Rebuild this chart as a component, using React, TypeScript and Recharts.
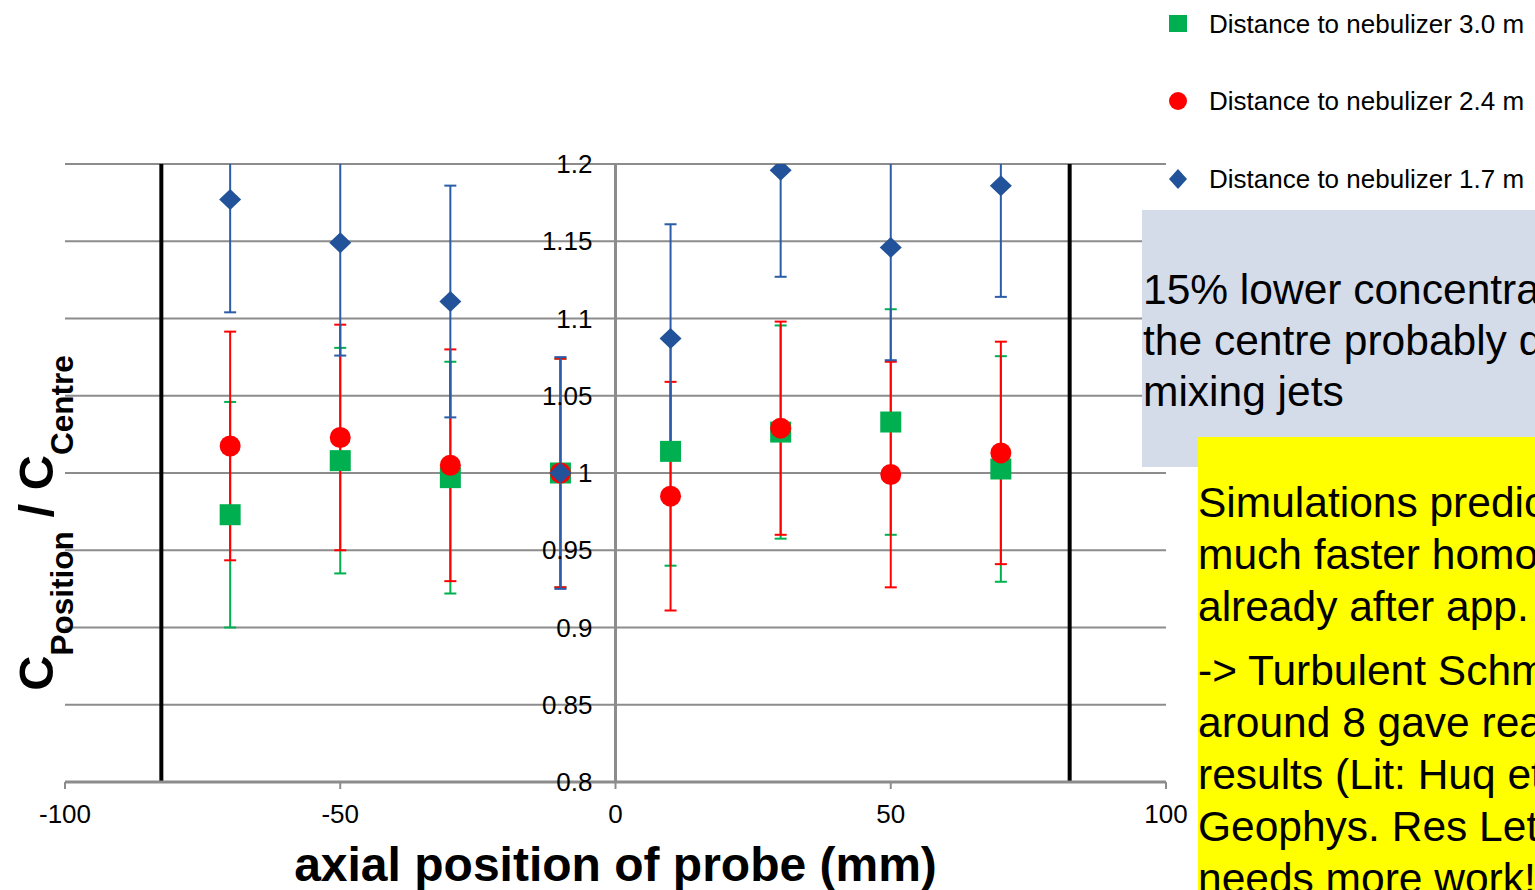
import { ScatterChart, Scatter, XAxis, YAxis, CartesianGrid, ErrorBar, ReferenceLine } from 'recharts';

const positions = [-70, -50, -30, -10, 10, 30, 50, 70];

// distance to nebulizer 1.7 m
const blueMean = [1.177, 1.149, 1.111, 1.0, 1.087, 1.196, 1.146, 1.186];
const blueErr = [0.073, 0.073, 0.075, 0.075, 0.074, 0.069, 0.073, 0.072];
// 2.4 m
const redMean = [1.0175, 1.023, 1.005, 1.0, 0.985, 1.029, 0.999, 1.013];
const redErr = [0.074, 0.073, 0.075, 0.074, 0.074, 0.069, 0.073, 0.072];
// 3.0 m
const greenMean = [0.973, 1.008, 0.997, 1.0, 1.014, 1.0265, 1.033, 1.0026];
const greenErr = [0.073, 0.073, 0.075, 0.074, 0.074, 0.069, 0.073, 0.073];

const xTicks = [-100, -50, 0, 50, 100];
const yTicks = [0.8, 0.85, 0.9, 0.95, 1, 1.05, 1.1, 1.15, 1.2];
const probeWalls = [-82.5, 82.5];

const W = 1535;
const H = 890;
const MARGIN = { top: 164, right: 369, bottom: 48, left: 64 };
const Y_AXIS_W = 1;
const X_AXIS_H = 60;
const PLOT_L = MARGIN.left + Y_AXIS_W;
const PLOT_W = W - PLOT_L - MARGIN.right;
const PLOT_H = H - MARGIN.top - MARGIN.bottom - X_AXIS_H;
const X_ZERO = PLOT_L + PLOT_W / 2;

const FONT = '"Liberation Sans", Arial, sans-serif';
const GRID = '#8c8c8c';
const BLUE = '#21529a';
const BLUE_BAR = '#2a5ca8';
const RED = '#ff0000';
const GREEN = '#00b050';
const CLIP = 'url(#plot-clip)';

const toRows = (mean: number[], err: number[]) =>
  positions.map((x, i) => ({ x, y: mean[i], err: err[i] }));

const greenRows = toRows(greenMean, greenErr);
const redRows = toRows(redMean, redErr);
const blueRows = toRows(blueMean, blueErr);

const Square = (p: any) => <rect x={p.cx - 10.5} y={p.cy - 10.5} width={21} height={21} fill={GREEN} />;
const Dot = (p: any) => <circle cx={p.cx} cy={p.cy} r={10.5} fill={RED} />;
const Diamond = (p: any) => (
  <polygon
    points={`${p.cx},${p.cy - 10.5} ${p.cx + 11},${p.cy} ${p.cx},${p.cy + 10.5} ${p.cx - 11},${p.cy}`}
    fill={BLUE}
  />
);

const YTick = (p: any) => (
  <text x={X_ZERO - 23} y={p.y} dy="0.355em" textAnchor="end" fontSize={26} fontFamily={FONT} fill="#000">
    {p.payload.value}
  </text>
);

const legendItems = [
  { label: 'Distance to nebulizer 3.0 m', kind: 'square', top: 24 },
  { label: 'Distance to nebulizer 2.4 m', kind: 'circle', top: 101 },
  { label: 'Distance to nebulizer 1.7 m', kind: 'diamond', top: 179 },
];

function LegendMark({ kind }: { kind: string }) {
  return (
    <svg width={20} height={20} style={{ position: 'absolute', left: 1168, top: -10 }}>
      {kind === 'square' && <rect x={1} y={1} width={18} height={17} fill={GREEN} />}
      {kind === 'circle' && <circle cx={10} cy={10} r={9} fill={RED} />}
      {kind === 'diamond' && <polygon points="10,0 19,10 10,20 1,10" fill={BLUE} />}
    </svg>
  );
}

export default function App() {
  return (
    <div style={{ position: 'absolute', left: 0, top: 0, width: W, height: H, overflow: 'hidden', background: '#fff', fontFamily: FONT }}>
      {/* clip region for the error bars (they run past 1.2 like in the original) */}
      <svg width={0} height={0} style={{ position: 'absolute' }}>
        <defs>
          <clipPath id="plot-clip">
            <rect x={PLOT_L} y={MARGIN.top} width={PLOT_W} height={PLOT_H} />
          </clipPath>
        </defs>
      </svg>

      <ScatterChart width={W} height={H} margin={MARGIN}>
        <CartesianGrid vertical={false} stroke={GRID} strokeWidth={2} />
        <XAxis
          type="number"
          dataKey="x"
          domain={[-100, 100]}
          ticks={xTicks}
          height={X_AXIS_H}
          stroke={GRID}
          axisLine={{ stroke: GRID, strokeWidth: 3 }}
          tickLine={{ stroke: GRID, strokeWidth: 2 }}
          tickSize={7}
          tickMargin={16}
          tick={{ fill: '#000', fontSize: 26, fontFamily: FONT }}
        />
        <YAxis
          type="number"
          dataKey="y"
          domain={[0.8, 1.2]}
          ticks={yTicks}
          allowDataOverflow
          width={Y_AXIS_W}
          axisLine={false}
          tickLine={false}
          tick={<YTick />}
        />
        <ReferenceLine x={0} stroke={GRID} strokeWidth={3} />
        {probeWalls.map((v) => (
          <ReferenceLine key={v} x={v} stroke="#000" strokeWidth={4} />
        ))}
        <Scatter data={greenRows} shape={Square} isAnimationActive={false}>
          <ErrorBar dataKey="err" direction="y" width={6} stroke={GREEN} strokeWidth={2} clipPath={CLIP} />
        </Scatter>
        <Scatter data={redRows} shape={Dot} isAnimationActive={false}>
          <ErrorBar dataKey="err" direction="y" width={6} stroke={RED} strokeWidth={2} clipPath={CLIP} />
        </Scatter>
        <Scatter data={blueRows} shape={Diamond} isAnimationActive={false}>
          <ErrorBar dataKey="err" direction="y" width={6} stroke={BLUE_BAR} strokeWidth={2} clipPath={CLIP} />
        </Scatter>
      </ScatterChart>

      {legendItems.map((it) => (
        <div key={it.label} style={{ position: 'absolute', left: 0, top: it.top, width: W, height: 0 }}>
          <LegendMark kind={it.kind} />
          <div style={{ position: 'absolute', left: 1209, top: -15, fontSize: 26, lineHeight: '30px', whiteSpace: 'nowrap', color: '#000' }}>
            {it.label}
          </div>
        </div>
      ))}

      <div
        style={{
          position: 'absolute', left: 1142, top: 210, width: 393, height: 257, background: '#d4dcea',
          boxSizing: 'border-box', paddingTop: 54, paddingLeft: 1, fontSize: 42.5, lineHeight: '51px',
          whiteSpace: 'nowrap', overflow: 'hidden', color: '#000',
        }}
      >
        <div>15% lower concentration in</div>
        <div>the centre probably due to</div>
        <div>mixing jets</div>
      </div>

      <div
        style={{
          position: 'absolute', left: 1198, top: 437, width: 337, height: 453, background: '#ffff00',
          boxSizing: 'border-box', paddingTop: 40, paddingLeft: 0, fontSize: 42.5, lineHeight: '52px',
          whiteSpace: 'nowrap', overflow: 'hidden', color: '#000',
        }}
      >
        <div>Simulations predict a</div>
        <div>much faster homogenisation</div>
        <div>already after app. 1 m</div>
        <div style={{ marginTop: 12 }}>-&gt; Turbulent Schmidt number</div>
        <div>around 8 gave reasonable</div>
        <div>results (Lit: Huq et al.</div>
        <div>Geophys. Res Lett.)</div>
        <div>needs more work!</div>
      </div>

      <div
        style={{
          position: 'absolute', left: X_ZERO - 400, top: 838, width: 800, textAlign: 'center',
          fontSize: 48, fontWeight: 'bold', lineHeight: '54px', whiteSpace: 'nowrap', color: '#000',
        }}
      >
        axial position of probe (mm)
      </div>

      <div
        style={{
          position: 'absolute', left: 36 - 200, top: 523 - 30, width: 400, height: 60, lineHeight: '60px',
          textAlign: 'center', transform: 'rotate(-90deg)', fontWeight: 'bold', whiteSpace: 'nowrap', color: '#000',
        }}
      >
        <span style={{ fontSize: 49 }}>C</span>
        <span style={{ fontSize: 31.5, position: 'relative', top: 20 }}>Position</span>
        <span style={{ fontSize: 49 }}> / C</span>
        <span style={{ fontSize: 31.5, position: 'relative', top: 20 }}>Centre</span>
      </div>
    </div>
  );
}
